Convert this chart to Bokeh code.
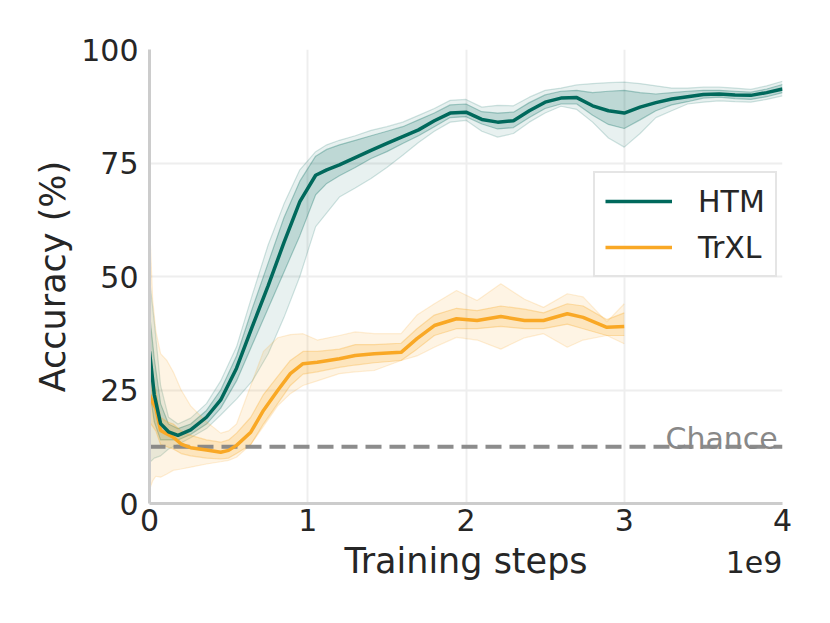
from bokeh.plotting import figure
from bokeh.models import (Legend, LegendItem, Label, FixedTicker, Range1d, LinearAxis,
                          CustomJSTickFormatter)
from bokeh.embed import file_html
from bokeh.resources import INLINE

# ---------------- data (x in units of 1e9 training steps) ----------------
htm_x = [0, 0.03, 0.07, 0.12, 0.18, 0.26, 0.36, 0.45, 0.55, 0.65, 0.75, 0.85, 0.95,
         1.05, 1.12, 1.2, 1.3, 1.4, 1.5, 1.6, 1.7, 1.8, 1.9, 2.0, 2.1, 2.2, 2.3, 2.4,
         2.5, 2.6, 2.7, 2.8, 2.9, 3.0, 3.1, 3.2, 3.3, 3.4, 3.5, 3.6, 3.7, 3.8, 3.9, 4.0]
htm_mean = [33.5, 24, 17.6, 15.8, 15.0, 16.2, 19.0, 22.8, 29.8, 39, 48, 57.5, 66.5,
            72.3, 73.5, 74.6, 76.2, 77.8, 79.3, 80.8, 82.3, 84.3, 86, 86.2, 84.6, 84, 84.3, 86.5,
            88.4, 89.3, 89.4, 87.6, 86.5, 86, 87.3, 88.3, 89.1, 89.6, 90.1, 90.2, 90, 89.9, 90.5, 91.3]
htm_outer_hi = [49.5, 40, 26, 19, 17.5, 18.8, 22, 27, 34.5, 46, 57, 66, 73.5,
                77.5, 79, 80, 81, 82.2, 83, 84, 85.5, 87, 88.8, 89, 87.3, 87.7, 87.6, 89.5,
                91, 91.5, 92.2, 92.5, 92.7, 92.8, 92.5, 92, 91.5, 91.5, 91.7, 91.7, 91.5, 91.2, 92, 93]
htm_inner_hi = [42, 32, 22, 17.5, 16.5, 17.5, 20.5, 25, 32.5, 43, 53, 63, 71,
                76.5, 78, 79, 80, 81, 82, 83, 84.5, 86, 87.8, 88, 86.3, 86, 86.2, 88.3,
                90, 90.8, 91, 90.5, 90.8, 91, 90.5, 90.2, 90.5, 90.8, 91, 91, 90.8, 90.6, 91.3, 92.3]
htm_inner_lo = [25, 18, 14, 14, 14, 15.2, 17.5, 21, 27, 35, 43, 51, 59,
                68, 70.5, 72.2, 74, 76, 77.5, 79.3, 81, 83, 85, 85.2, 83.6, 82.5, 82.8, 85,
                87, 88, 88, 85.5, 83.5, 82.6, 84.5, 86.5, 87.8, 88.5, 89.3, 89.5, 89.2, 89, 89.6, 90.5]
htm_outer_lo = [9, 10, 10.5, 12, 13, 14.5, 16.5, 19.5, 23, 27, 33, 41, 50,
                61, 64, 67.5, 69.5, 71.6, 74, 76.7, 79.5, 82, 84, 84.4, 82, 80.7, 81.5, 84,
                86, 87.5, 86.8, 84, 80.5, 78.5, 81.5, 85, 86.5, 88, 88.4, 88.7, 88.5, 88.4, 89, 89.8]

trxl_x = [0, 0.02, 0.04, 0.07, 0.11, 0.15, 0.2, 0.26, 0.36, 0.45, 0.5, 0.55, 0.64, 0.72,
          0.81, 0.89, 0.97, 1.06, 1.2, 1.3, 1.42, 1.59, 1.69, 1.8, 1.94, 2.07, 2.22, 2.37,
          2.49, 2.64, 2.74, 2.89, 3.0]
trxl_mean = [24, 22.3, 21, 16.1, 15.3, 14.6, 13.1, 12.3, 11.8, 11.3, 11.7, 12.8, 15.7, 20.5,
             24.9, 28.6, 30.8, 31.1, 31.9, 32.6, 33, 33.3, 36.3, 39.2, 40.7, 40.3, 41.2, 40.3,
             40.3, 41.8, 41, 38.8, 39]
trxl_outer_hi = [62, 45, 38, 33, 31.5, 29, 25, 21.5, 18, 15.5, 16, 17.5, 26, 33.5,
                 36.5, 37.2, 37.4, 36, 37, 37.8, 37.4, 37.4, 41.5, 44, 46.9, 44.7, 48.4, 45,
                 43.2, 46.2, 45.5, 40, 44]
trxl_inner_hi = [30, 27, 25, 19, 18, 17.5, 16, 15, 14, 13.5, 14, 15.5, 19, 24,
                 28, 31.5, 33.5, 33.5, 34, 35, 35, 35.3, 38.5, 41.5, 43, 42.5, 43.5, 42.8,
                 42, 44, 43.5, 40.5, 42]
trxl_inner_lo = [18, 17, 16, 13, 12.5, 12, 11, 10.5, 10, 9.8, 10, 11, 13, 17.5,
                 22, 26, 28.5, 29, 30, 30.5, 31, 31.5, 34, 37, 38.5, 38.5, 39, 38.5,
                 38.5, 39.5, 38.5, 37, 37]
trxl_outer_lo = [3, 5, 6, 5.8, 6.5, 7.3, 7.6, 8, 8.7, 9.2, 9.5, 10.2, 13, 17,
                 21.5, 24.2, 26, 27, 28.6, 29, 29.3, 31.5, 32.5, 34.4, 36.6, 36, 34, 36.5,
                 37.4, 34.4, 36, 37, 35.2]

chance_level = 12.5
x_ticks = [0, 1, 2, 3, 4]
y_ticks = [0, 25, 50, 75, 100]
series_names = ["HTM", "TrXL"]
offset_text = "1e9"

# ---------------- styling ----------------
HTM_C = "#00695C"
TRXL_C = "#F9A825"
TXT = "#262626"
FONT = "DejaVu Sans"

p = figure(width=822, height=615, output_backend="svg", toolbar_location=None,
           x_range=Range1d(0, 4), y_range=Range1d(0, 100),
           min_border_left=149, min_border_right=40, min_border_top=49, min_border_bottom=112)
p.outline_line_color = None
p.background_fill_color = "white"

for ax in (p.xaxis[0], p.yaxis[0]):
    ax.axis_line_color = "#cccccc"
    ax.axis_line_width = 3
    ax.major_tick_line_color = None
    ax.minor_tick_line_color = None
    ax.major_tick_out = 0
    ax.major_tick_in = 0
    ax.major_label_text_font = FONT
    ax.major_label_text_font_size = "30px"
    ax.major_label_text_color = TXT
    ax.axis_label_text_font = FONT
    ax.axis_label_text_font_size = "35px"
    ax.axis_label_text_font_style = "normal"
    ax.axis_label_text_color = TXT

p.xaxis.ticker = FixedTicker(ticks=x_ticks)
p.yaxis.ticker = FixedTicker(ticks=y_ticks)
p.xaxis.axis_label = "Training steps"
p.yaxis.axis_label = "Accuracy (%)"
p.xaxis.major_label_standoff = 5
p.xaxis.axis_label_standoff = 7
p.yaxis.major_label_standoff = 11
p.yaxis.axis_label_standoff = 5

# axis offset text ("1e9") via a secondary, line-less axis pulled up into the label row
offset_axis = LinearAxis(ticker=FixedTicker(ticks=[3.82]),
                         formatter=CustomJSTickFormatter(code="return '%s'" % offset_text),
                         axis_line_color=None, major_tick_line_color=None,
                         minor_tick_line_color=None, major_tick_out=0, major_tick_in=0,
                         major_label_standoff=-33,
                         major_label_text_font=FONT, major_label_text_font_size="30px",
                         major_label_text_color=TXT)
p.add_layout(offset_axis, "below")

p.xgrid.grid_line_color = "#eeeeee"
p.ygrid.grid_line_color = "#eeeeee"
p.xgrid.grid_line_width = 2
p.ygrid.grid_line_width = 2

def bands(x, ohi, ihi, ilo, olo, color, a_out, a_in):
    p.varea(x=x, y1=olo, y2=ohi, fill_color=color, fill_alpha=a_out)
    p.varea(x=x, y1=ilo, y2=ihi, fill_color=color, fill_alpha=a_in)
    for arr, a in ((ohi, 0.18), (olo, 0.18), (ihi, 0.3), (ilo, 0.3)):
        p.line(x, arr, line_color=color, line_alpha=a, line_width=1.2)

bands(htm_x, htm_outer_hi, htm_inner_hi, htm_inner_lo, htm_outer_lo, HTM_C, 0.09, 0.18)
bands(trxl_x, trxl_outer_hi, trxl_inner_hi, trxl_inner_lo, trxl_outer_lo, TRXL_C, 0.12, 0.2)

p.line([0, 4], [chance_level, chance_level], line_color="#808080", line_alpha=0.9,
       line_width=4, line_dash="16 8")

r_trxl = p.line(trxl_x, trxl_mean, line_color=TRXL_C, line_width=3.5)
r_htm = p.line(htm_x, htm_mean, line_color=HTM_C, line_width=3.5)

p.add_layout(Label(x=3.97, y=chance_level + 1.8, text="Chance", text_align="right",
                   text_baseline="alphabetic", text_font=FONT, text_font_size="30px",
                   text_color="#888888"))

legend = Legend(items=[LegendItem(label=series_names[0], renderers=[r_htm]),
                       LegendItem(label=series_names[1], renderers=[r_trxl])],
                location=(444, 226))
legend.label_text_font = FONT
legend.label_text_font_size = "30px"
legend.label_text_color = TXT
legend.glyph_width = 67
legend.glyph_height = 36
legend.label_standoff = 26
legend.label_height = 36
legend.spacing = 10
legend.padding = 10
legend.margin = 0
legend.border_line_color = "#cccccc"
legend.border_line_width = 2.5
legend.background_fill_alpha = 0.8
p.add_layout(legend)

open("out.html", "w").write(file_html(p, INLINE))
